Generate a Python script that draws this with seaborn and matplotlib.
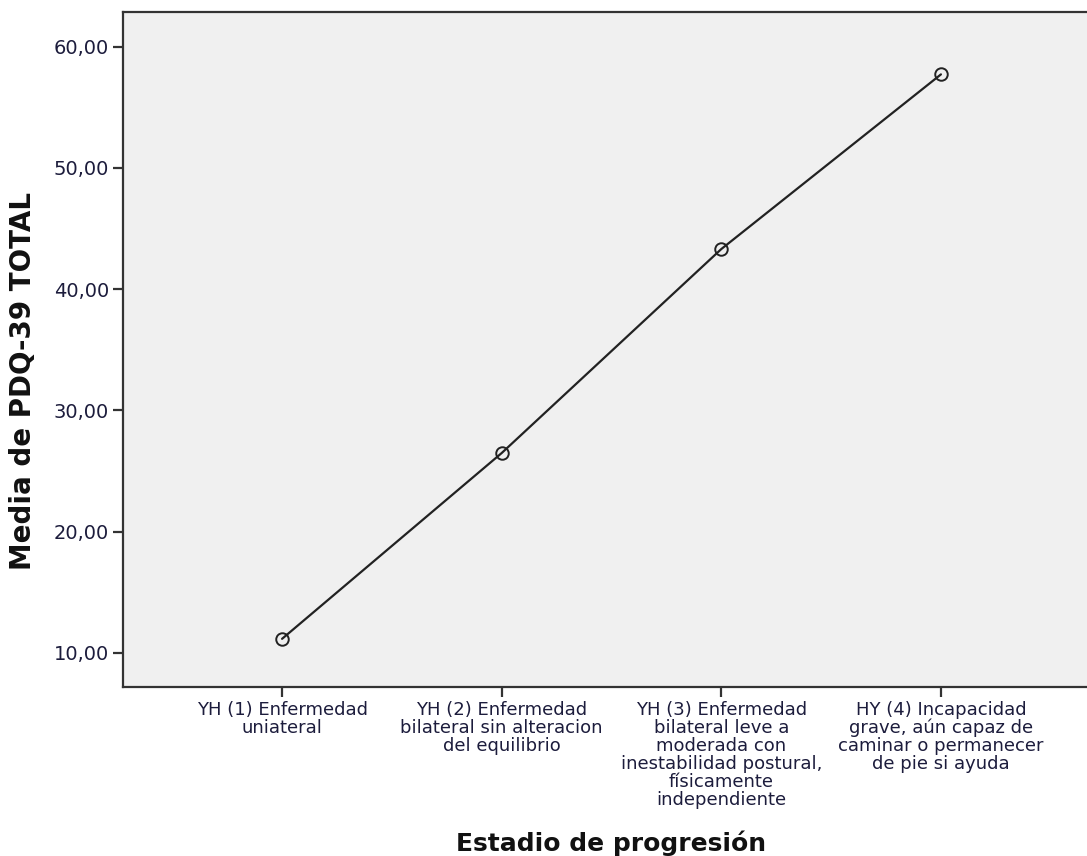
import matplotlib
matplotlib.use("Agg")
import matplotlib.pyplot as plt
import seaborn as sns
import pandas as pd

# stages of progression (Hoehn & Yahr) and mean PDQ-39 total
stages = [
    "YH (1) Enfermedad\nuniateral",
    "YH (2) Enfermedad\nbilateral sin alteracion\ndel equilibrio",
    "YH (3) Enfermedad\nbilateral leve a\nmoderada con\ninestabilidad postural,\nfísicamente\nindependiente",
    "HY (4) Incapacidad\ngrave, aún capaz de\ncaminar o permanecer\nde pie si ayuda",
]
pdq_mean = [11.15, 26.48, 43.31, 57.72]
y_ticks = [10, 20, 30, 40, 50, 60]
y_ticklabels = ["10,00", "20,00", "30,00", "40,00", "50,00", "60,00"]

df = pd.DataFrame({"pos": range(len(stages)), "media": pdq_mean})

sns.set_style("white")
plt.rcParams['font.family'] = ['DejaVu Sans']

fig = plt.figure(figsize=(10.87, 8.56), dpi=100)
ax = fig.add_axes([0.1132, 0.1977, 0.8868, 0.7879])
ax.set_facecolor("#f0f0f0")

sns.lineplot(data=df, x="pos", y="media", ax=ax, color="#222222", linewidth=1.6,
             marker="o", markersize=9, markerfacecolor="none",
             markeredgecolor="#222222", markeredgewidth=1.4)

ax.set_xlim(-0.724, 3.665)
ax.set_ylim(7.195, 62.84)
ax.set_xticks(range(len(stages)))
ax.set_xticklabels(stages, fontsize=13, color="#1c1c3c", linespacing=1.0,
                   va="top", ha="center")
ax.set_yticks(y_ticks)
ax.set_yticklabels(y_ticklabels, fontsize=14, color="#1c1c3c")
ax.tick_params(axis="both", direction="out", length=7, width=1.6,
               color="#333333", bottom=True, left=True, pad=3)

for s in ["left", "bottom", "top"]:
    ax.spines[s].set_color("#333333")
    ax.spines[s].set_linewidth(1.6)
ax.spines["right"].set_visible(False)

ax.set_xlabel("")
ax.set_ylabel("")
fig.text(611 / 1087, 1 - 843 / 856, "Estadio de progresión", fontsize=18,
         fontweight="bold", ha="center", va="center", color="#111111")
fig.text(23 / 1087, 1 - 381 / 856, "Media de PDQ-39 TOTAL", fontsize=20,
         fontweight="bold", rotation=90, ha="center", va="center", color="#111111")

fig.savefig("out.png", dpi=100)
